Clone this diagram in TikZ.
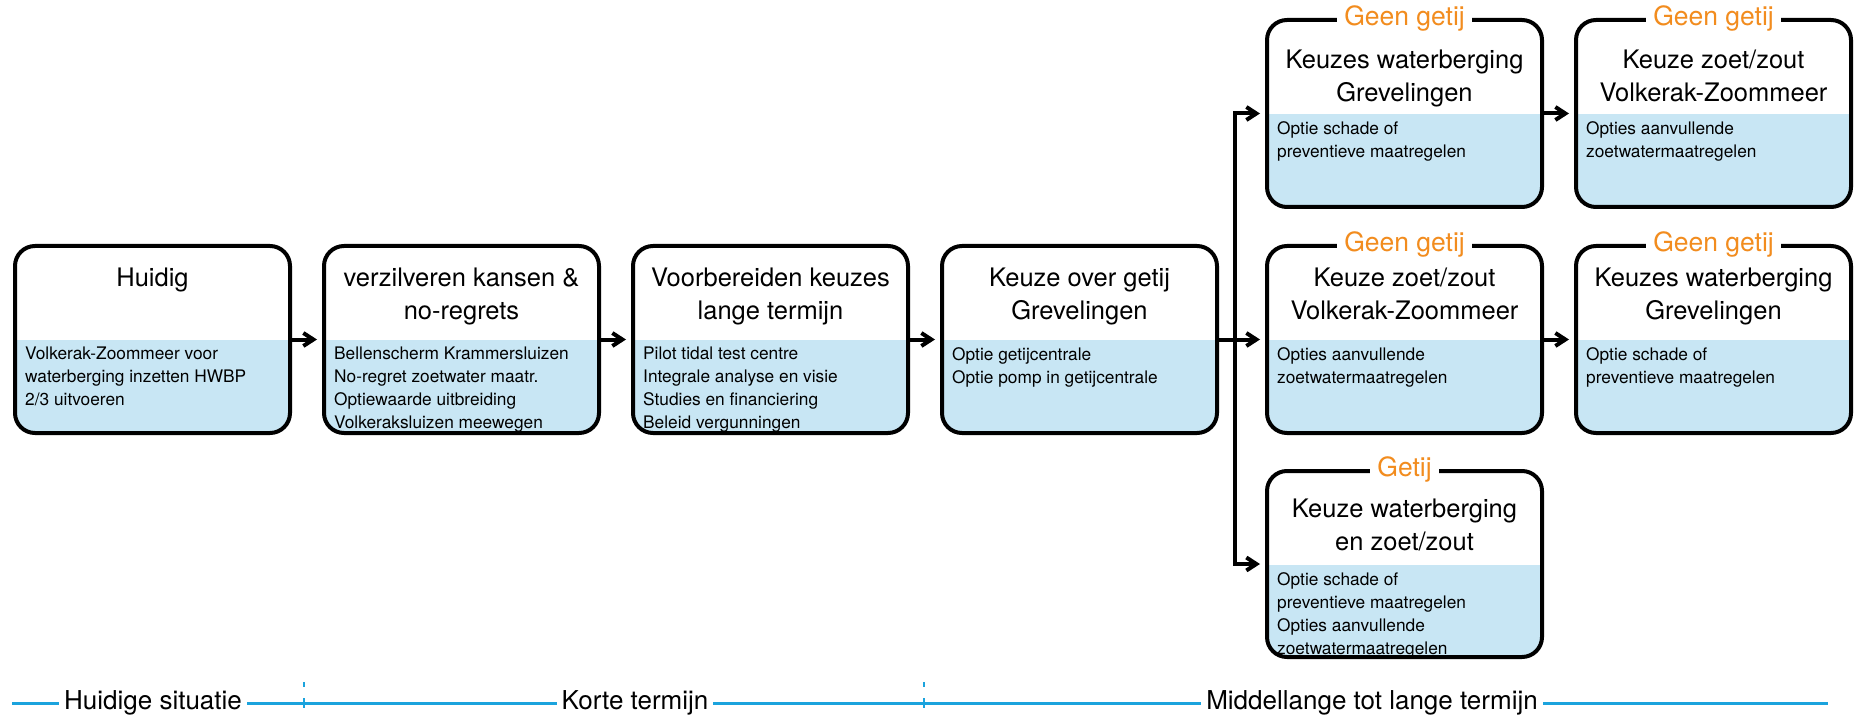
\documentclass[tikz,border=0pt]{standalone}
\usepackage{fontspec}
\setmainfont{TeX Gyre Heros}
\usetikzlibrary{arrows.meta,calc}
\definecolor{fillblue}{RGB}{200,230,244}
\definecolor{lineblue}{RGB}{27,163,221}
\definecolor{labelorange}{RGB}{242,140,30}
\begin{document}
\begin{tikzpicture}[x=1pt,y=-1pt,
  box/.style={draw=black, line width=4pt, rounded corners=20pt,
    minimum width=275pt, minimum height=187pt, inner sep=0pt, outer sep=0pt,
    anchor=north west, fill=white,
    path picture={\fill[fillblue, sharp corners] ([yshift=-94pt]path picture bounding box.north west) rectangle (path picture bounding box.south east);}},
  boxtitle/.style={anchor=north, align=center, inner sep=0pt,
    font=\fontsize{25.5}{33}\selectfont},
  boxbody/.style={anchor=north west, align=left, inner sep=0pt,
    font=\fontsize{17.3}{23}\selectfont},
  lbl/.style={fill=white, text=labelorange, inner xsep=7pt, inner ysep=0pt,
    font=\fontsize{26.5}{30}\selectfont},
  conn/.style={line width=4pt},
  arrowconn/.style={line width=4pt, -{Straight Barb[length=10pt,width=13pt]}, shorten >=7pt},
  tlline/.style={draw=lineblue, line width=3pt},
  tltick/.style={draw=lineblue, line width=2pt},
  tllbl/.style={fill=white, inner xsep=5pt, inner ysep=2pt,
    font=\fontsize{26}{30}\selectfont}
]
\useasboundingbox (0,0) rectangle (1858,719);
\fill[white] (0,0) rectangle (1858,719);

% main row boxes
\node[box] (B1) at (15,246) {};
\node[box] (B2) at (324,246) {};
\node[box] (B3) at (633,246) {};
\node[box] (B4) at (942,246) {};
% right columns
\node[box] (T1) at (1267,20) {};
\node[box] (T2) at (1576,20) {};
\node[box] (M1) at (1267,246) {};
\node[box] (M2) at (1576,246) {};
\node[box, minimum height=186pt] (G1) at (1267,471) {};

% titles
\node[boxtitle] (t1) at ([yshift=-22pt]B1.north) {Huidig};
\node[boxtitle] (t2) at ([yshift=-22pt]B2.north) {verzilveren kansen \&\\no-regrets};
\node[boxtitle] (t3) at ([yshift=-22pt]B3.north) {Voorbereiden keuzes\\lange termijn};
\node[boxtitle] (t4) at ([yshift=-22pt]B4.north) {Keuze over getij\\Grevelingen};
\node[boxtitle] (tt1) at ([yshift=-30pt]T1.north) {Keuzes waterberging\\Grevelingen};
\node[boxtitle] (tt2) at ([yshift=-30pt]T2.north) {Keuze zoet/zout\\Volkerak-Zoommeer};
\node[boxtitle] (tm1) at ([yshift=-22pt]M1.north) {Keuze zoet/zout\\Volkerak-Zoommeer};
\node[boxtitle] (tm2) at ([yshift=-22pt]M2.north) {Keuzes waterberging\\Grevelingen};
\node[boxtitle] (tg1) at ([yshift=-28pt]G1.north) {Keuze waterberging\\en zoet/zout};

% bodies
\node[boxbody] (b1) at ([xshift=10pt,yshift=-101pt]B1.north west) {Volkerak-Zoommeer voor\\waterberging inzetten HWBP\\2/3 uitvoeren};
\node[boxbody] (b2) at ([xshift=10pt,yshift=-101pt]B2.north west) {Bellenscherm Krammersluizen\\No-regret zoetwater maatr.\\Optiewaarde uitbreiding\\Volkeraksluizen meewegen};
\node[boxbody] (b3) at ([xshift=10pt,yshift=-101pt]B3.north west) {Pilot tidal test centre\\Integrale analyse en visie\\Studies en financiering\\Beleid vergunningen};
\node[boxbody] (b4) at ([xshift=10pt,yshift=-101pt]B4.north west) {Optie getijcentrale\\Optie pomp in getijcentrale};
\node[boxbody] (bt1) at ([xshift=10pt,yshift=-101pt]T1.north west) {Optie schade of\\preventieve maatregelen};
\node[boxbody] (bt2) at ([xshift=10pt,yshift=-101pt]T2.north west) {Opties aanvullende\\zoetwatermaatregelen};
\node[boxbody] (bm1) at ([xshift=10pt,yshift=-101pt]M1.north west) {Opties aanvullende\\zoetwatermaatregelen};
\node[boxbody] (bm2) at ([xshift=10pt,yshift=-101pt]M2.north west) {Optie schade of\\preventieve maatregelen};
\node[boxbody] (bg1) at ([xshift=10pt,yshift=-101pt]G1.north west) {Optie schade of\\preventieve maatregelen\\Opties aanvullende\\zoetwatermaatregelen};

% labels on top borders
\node[lbl] (lt1) at ([yshift=2pt]T1.north) {Geen getij};
\node[lbl] (lt2) at ([yshift=2pt]T2.north) {Geen getij};
\node[lbl] (lm1) at ([yshift=2pt]M1.north) {Geen getij};
\node[lbl] (lm2) at ([yshift=2pt]M2.north) {Geen getij};
\node[lbl] (lg1) at ([yshift=2pt]G1.north) {Getij};

% connectors
\draw[arrowconn] (B1.east) -- (B2.west);
\draw[arrowconn] (B2.east) -- (B3.west);
\draw[arrowconn] (B3.east) -- (B4.west);
\draw[arrowconn] (B4.east) -- (M1.west);
\coordinate (J) at (1235,0 |- B4.east);
\draw[arrowconn] (J) |- (T1.west);
\draw[arrowconn] (J) |- (G1.west);
\draw[arrowconn] (T1.east) -- (T2.west);
\draw[arrowconn] (M1.east) -- (M2.west);

% timeline
\coordinate (TLa) at (12,703);
\coordinate (TLb) at (1828,703);
\draw[tlline] (TLa) -- (TLb);
\coordinate (K1a) at (304,682);
\coordinate (K1b) at (304,687);
\coordinate (K1c) at (304,698);
\coordinate (K1d) at (304,708);
\coordinate (K2a) at (924,682);
\coordinate (K2b) at (924,687);
\coordinate (K2c) at (924,698);
\coordinate (K2d) at (924,708);
\draw[tltick] (K1a) -- (K1b);
\draw[tltick] (K1c) -- (K1d);
\draw[tltick] (K2a) -- (K2b);
\draw[tltick] (K2c) -- (K2d);
\node[tllbl] (L1) at (153,703) {Huidige situatie};
\node[tllbl] (L2) at (635,703) {Korte termijn};
\node[tllbl] (L3) at (1372,703) {Middellange tot lange termijn};
\end{tikzpicture}
\end{document}
